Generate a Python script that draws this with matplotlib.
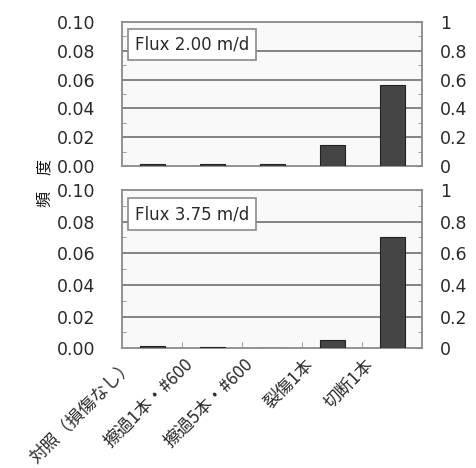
import matplotlib
matplotlib.use("Agg")
import matplotlib.pyplot as plt
import matplotlib.transforms as mtransforms
from matplotlib.ticker import MultipleLocator, FixedLocator

plt.rcParams['font.family'] = ['DejaVu Sans']
jp = ['Noto Sans CJK JP', 'DejaVu Sans']

categories = ["対照（損傷なし）", "擦過1本・#600", "擦過5本・#600", "裂傷1本", "切断1本"]
flux_labels = ["Flux 2.00 m/d", "Flux 3.75 m/d"]
# frequency (left axis units)
freq_200 = [0.0015, 0.0015, 0.0015, 0.0145, 0.0565]
freq_375 = [0.0015, 0.0008, 0.0, 0.0052, 0.0705]
left_ticks = [0.00, 0.02, 0.04, 0.06, 0.08, 0.10]
right_ticks = [0, 0.2, 0.4, 0.6, 0.8, 1]
right_labels = ["0", "0.2", "0.4", "0.6", "0.8", "1"]

fig = plt.figure(figsize=(4.77, 4.68), dpi=100)
panels = [(0.645, 0.953), (0.256, 0.594)]
x = list(range(len(categories)))
spine_col = "#8a8a8a"
txt_col = "#2a2a2a"

for i, ((b, t), vals, lab) in enumerate(zip(panels, [freq_200, freq_375], flux_labels)):
    ax = fig.add_axes([0.256, b, 0.629, t - b])
    ax.set_facecolor("#f9f9f9")
    ax.bar(x, vals, width=0.42, color="#454545", edgecolor="#222222", linewidth=0.8, zorder=3)
    ax.set_xlim(-0.5, 4.5)
    ax.set_ylim(0, 0.10)
    ax.set_yticks(left_ticks)
    ax.set_yticklabels([f"{v:.2f}" for v in left_ticks])
    ax.yaxis.set_minor_locator(MultipleLocator(0.01))
    ax.tick_params(axis='y', which='major', length=0, pad=19, labelsize=12.5, labelcolor=txt_col)
    ax.tick_params(axis='y', which='minor', direction='in', length=3, color=spine_col)
    for g in [0.02, 0.04, 0.06, 0.08]:
        ax.axhline(g, color="#7a7a7a", linewidth=1.3, zorder=1)
    for s in ax.spines.values():
        s.set_color(spine_col)
        s.set_linewidth(1.3)

    ax2 = ax.twinx()
    ax2.set_ylim(0, 1)
    ax2.set_yticks(right_ticks)
    ax2.set_yticklabels(right_labels)
    ax2.yaxis.set_minor_locator(MultipleLocator(0.1))
    ax2.tick_params(axis='y', which='major', direction='in', length=5, pad=13,
                    labelsize=12.5, labelcolor=txt_col, color=spine_col)
    ax2.tick_params(axis='y', which='minor', direction='in', length=3, color=spine_col)
    for s in ax2.spines.values():
        s.set_visible(False)

    ax.text(0.042, 0.905, lab, transform=ax.transAxes, fontsize=12, color=txt_col,
            va='top', ha='left', zorder=5,
            bbox=dict(boxstyle='square,pad=0.4', facecolor='white', edgecolor=spine_col, linewidth=1.2))

    if i == 0:
        ax.set_xticks([])
    else:
        ax.xaxis.set_major_locator(FixedLocator(x))
        ax.set_xticklabels(categories, rotation=45, ha='right', rotation_mode='anchor',
                           family=jp, fontsize=12.5, color=txt_col)
        ax.tick_params(axis='x', which='major', length=0, pad=0)
        shift = mtransforms.ScaledTranslation(-0.28, -0.07, fig.dpi_scale_trans)
        for tl in ax.get_xticklabels():
            tl.set_transform(tl.get_transform() + shift)
        ax.xaxis.set_minor_locator(FixedLocator([0.5, 1.5, 2.5, 3.5]))
        ax.tick_params(axis='x', which='minor', direction='in', length=4, color=spine_col)

fig.text(0.094, 0.609, "頻　度", rotation=90, ha='center', va='center', fontsize=11.5,
         family=jp, color="#111111")

fig.savefig("out.png", dpi=100)
